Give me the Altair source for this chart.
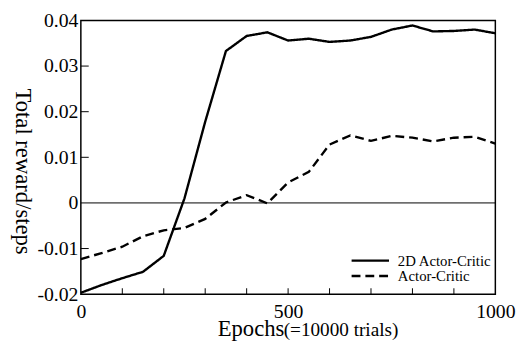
import altair as alt
import pandas as pd

epochs = [0, 50, 100, 150, 200, 250, 300, 350, 400, 450, 500,
          550, 600, 650, 700, 750, 800, 850, 900, 950, 1000]
ac2d = [-0.0197, -0.0180, -0.0165, -0.0151, -0.0116, 0.0010, 0.0178, 0.0333, 0.0366, 0.0374, 0.0356,
        0.0360, 0.0353, 0.0356, 0.0364, 0.0380, 0.0389, 0.0376, 0.0377, 0.0380, 0.0372]
ac = [-0.0123, -0.0110, -0.0096, -0.0073, -0.0060, -0.0055, -0.0035, 0.0001, 0.0017, -0.0001, 0.0045,
      0.0068, 0.0128, 0.0148, 0.0136, 0.0147, 0.0143, 0.0135, 0.0143, 0.0145, 0.0130]
series_names = ["2D Actor-Critic", "Actor-Critic"]
series_dashes = [[1, 0], [9, 5]]
x_label_values = [0, 500, 1000]
y_label_values = [-0.02, -0.01, 0, 0.01, 0.02, 0.03, 0.04]
x_minor_ticks = [100, 200, 300, 400, 500, 600, 700, 800, 900]
y_minor_ticks = [-0.01, 0.01, 0.02, 0.03]

W, H = 421, 278
FONT = "'Liberation Serif', 'Times New Roman', Times, serif"

rows = []
for e, a, b in zip(epochs, ac2d, ac):
    rows.append({"epoch": e, "value": a, "series": series_names[0]})
    rows.append({"epoch": e, "value": b, "series": series_names[1]})
df = pd.DataFrame(rows)

xscale = alt.Scale(domain=[0, 1000], nice=False, zero=False)
yscale = alt.Scale(domain=[-0.02, 0.04], nice=False, zero=False)

lines = alt.Chart(df).mark_line(color="black", strokeWidth=2.4).encode(
    x=alt.X("epoch:Q", scale=xscale,
            axis=alt.Axis(values=x_label_values, title=None, ticks=False, domain=False,
                          grid=False, labelFont=FONT, labelFontSize=20, labelColor="black",
                          labelPadding=8, labelFlush=False, format="d")),
    y=alt.Y("value:Q", scale=yscale,
            axis=alt.Axis(values=y_label_values, title="Total reward/steps", ticks=False,
                          domain=False, grid=False, labelFont=FONT, labelFontSize=20,
                          labelColor="black", labelPadding=3,
                          labelExpr="datum.value == 0 ? '0' : replace(format(datum.value, '.2f'), '\u2212', '-')",
                          titleFont=FONT, titleFontSize=23, titleFontWeight="normal",
                          titleColor="black", titleAngle=90, titleX=-59, titleY=153,
                          titleAlign="center", titleBaseline="middle")),
    strokeDash=alt.StrokeDash("series:N",
                              scale=alt.Scale(domain=series_names, range=series_dashes),
                              legend=None),
    order=alt.Order("epoch:Q"),
)

zero = alt.Chart(pd.DataFrame({"z": [0]})).mark_rule(color="black", strokeWidth=1).encode(
    y=alt.Y("z:Q", scale=yscale)
)

xt = alt.Chart(pd.DataFrame({"t": x_minor_ticks})).mark_rule(color="black", strokeWidth=1).encode(
    x=alt.X("t:Q", scale=xscale), y=alt.value(H), y2=alt.value(H - 6)
)
yt = alt.Chart(pd.DataFrame({"t": y_minor_ticks})).mark_rule(color="black", strokeWidth=1).encode(
    y=alt.Y("t:Q", scale=yscale), x=alt.value(0), x2=alt.value(8)
)

# manual legend
leg_layers = []
for i, (name, dash) in enumerate(zip(series_names, series_dashes)):
    ly = 244 + i * 15.5
    ldf = pd.DataFrame({"s": [name]})
    leg_layers.append(
        alt.Chart(ldf).mark_rule(color="black", strokeWidth=2.4, strokeDash=dash).encode(
            x=alt.value(275), x2=alt.value(313), y=alt.value(ly))
    )
    leg_layers.append(
        alt.Chart(ldf).mark_text(font=FONT, fontSize=15, color="black", align="left",
                                 baseline="middle").encode(
            text="s:N", x=alt.value(322), y=alt.value(ly))
    )

xt1 = alt.Chart(pd.DataFrame({"s": ["Epochs"]})).mark_text(
    font=FONT, fontSize=23, color="black", align="left", baseline="alphabetic"
).encode(text="s:N", x=alt.value(139), y=alt.value(321))
xt2 = alt.Chart(pd.DataFrame({"s": ["(=10000 trials)"]})).mark_text(
    font=FONT, fontSize=19.5, color="black", align="left", baseline="alphabetic"
).encode(text="s:N", x=alt.value(206), y=alt.value(321))

chart = alt.layer(zero, xt, yt, lines, *leg_layers, xt1, xt2).properties(
    width=W, height=H,
    autosize=alt.AutoSizeParams(type="none"),
    padding={"left": 74, "top": 10, "right": 22, "bottom": 50},
).configure_view(stroke="black", strokeWidth=1.5)

chart.save("out.html", embed_options={"renderer": "svg", "actions": False})
